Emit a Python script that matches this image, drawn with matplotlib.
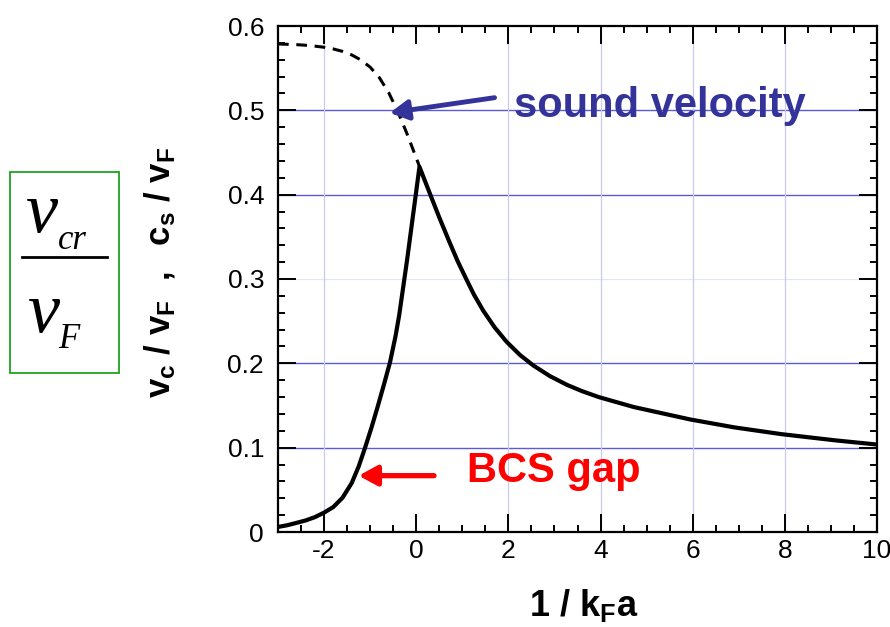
import numpy as np
import matplotlib
matplotlib.use('Agg')
import matplotlib.pyplot as plt
from matplotlib.patches import Rectangle
from matplotlib.lines import Line2D

plt.rcParams['font.family'] = ['Liberation Sans', 'DejaVu Sans']
plt.rcParams['mathtext.fontset'] = 'custom'
plt.rcParams['mathtext.rm'] = 'Liberation Sans'
plt.rcParams['mathtext.bf'] = 'Liberation Sans:bold'
plt.rcParams['mathtext.it'] = 'Liberation Sans:italic'
plt.rcParams['axes.unicode_minus'] = False

# sound velocity c_s / v_F (dashed, BCS side)
sound_x = [-3.0, -2.6, -2.3, -2.0, -1.8, -1.6, -1.4, -1.2, -1.0, -0.8, -0.6,
           -0.4, -0.2, 0.0, 0.07]
sound_y = [0.5787, 0.5779, 0.5768, 0.5748, 0.5728, 0.5699, 0.5657, 0.5597,
           0.5512, 0.5387, 0.5212, 0.4987, 0.4722, 0.4436, 0.4335]

# critical velocity v_c / v_F (solid)
vc_x = [-3.0, -2.8, -2.6, -2.4, -2.2, -2.0, -1.8, -1.6, -1.4, -1.25, -1.11,
        -0.97, -0.84, -0.70, -0.57, -0.45, -0.37, -0.2, 0.0, 0.07,
        0.32, 0.5, 0.72, 0.9, 1.085, 1.25, 1.45, 1.7, 1.96, 2.25, 2.54, 2.9,
        3.27, 3.6, 3.96, 4.72, 5.95, 6.91, 7.93, 9.09, 10.0]
vc_y = [0.006, 0.008, 0.0108, 0.0137, 0.0176, 0.023, 0.0296, 0.0406, 0.0581,
        0.0776, 0.100, 0.124, 0.148, 0.175, 0.201, 0.232, 0.257, 0.322,
        0.404, 0.433,
        0.398, 0.373, 0.344, 0.321, 0.300, 0.2818, 0.2628, 0.2428, 0.2256,
        0.210, 0.1975, 0.1849, 0.1745, 0.167, 0.160, 0.1482, 0.1334, 0.124,
        0.116, 0.1087, 0.1037]

xticks = [-2, 0, 2, 4, 6, 8, 10]
yticks = [0, 0.1, 0.2, 0.3, 0.4, 0.5, 0.6]
ytick_labels = ['0', '0.1', '0.2', '0.3', '0.4', '0.5', '0.6']
hgrid_dark = [0.1, 0.2, 0.4, 0.5]
hgrid_light = [0.3]
vgrid = [-2, 2, 4, 6, 8]

W, H = 890, 627
fig = plt.figure(figsize=(W / 100, H / 100), dpi=100)
ax = fig.add_axes([278 / W, 1 - 532 / H, 599 / W, 506 / H])


def fx(px):
    return px / W


def fy(py):
    return 1 - py / H


for g in hgrid_dark:
    ax.axhline(g, color='#5b5bd8', lw=1.0, zorder=1)
for g in hgrid_light:
    ax.axhline(g, color='#e4e4f6', lw=0.8, zorder=1)
for g in vgrid:
    ax.axvline(g, color='#c8c8f2', lw=0.9, zorder=1)

ax.plot(sound_x, sound_y, color='black', lw=2.2, ls=(0, (3.5, 2.5)), zorder=3)
ax.plot(vc_x, vc_y, color='black', lw=3.0, solid_joinstyle='round', zorder=3)

ax.set_xlim(-3, 10)
ax.set_ylim(0, 0.6)
ax.set_xticks(xticks)
ax.set_xticks(np.arange(-3, 10.01, 0.5), minor=True)
ax.set_yticks(yticks)
ax.set_yticklabels(ytick_labels)
ax.set_yticks(np.arange(0, 0.601, 0.02), minor=True)
ax.tick_params(which='both', direction='in', top=True, right=True,
               labelsize=19, width=1.4)
ax.tick_params(which='major', length=13)
ax.tick_params(which='minor', length=5)
ax.tick_params(axis='y', pad=10)
ax.tick_params(axis='x', pad=5)
for s in ax.spines.values():
    s.set_linewidth(1.6)

ax.set_xlabel(r'$\mathbf{1\ /\ k_Fa}$', fontsize=26)
ax.xaxis.set_label_coords(0.511, -0.108)
ax.set_ylabel(r'$\mathbf{v_c\ /\ v_F\ \ ,\ \ c_s\ /\ v_F}$', fontsize=25)
ax.yaxis.set_label_coords(-0.167, 0.514)

# annotations
ax.annotate('', xy=(-0.574, 0.497), xytext=(1.70, 0.515),
            arrowprops=dict(arrowstyle='-|>,head_length=0.55,head_width=0.3',
                            color='#333399', lw=3.5, mutation_scale=20,
                            shrinkA=0, shrinkB=0), zorder=4)
ax.text(2.12, (532 - 116.7) / 843.3, 'sound velocity', color='#333399',
        fontsize=30, fontweight='bold', va='baseline', ha='left', zorder=4)
ax.annotate('', xy=(-1.25, 0.0668), xytext=(0.386, 0.0668),
            arrowprops=dict(arrowstyle='-|>,head_length=0.55,head_width=0.3',
                            color='#ff0000', lw=3.8, mutation_scale=20,
                            shrinkA=0, shrinkB=0), zorder=4)
ax.text(1.11, (532 - 481.7) / 843.3, 'BCS gap', color='#ff0000', fontsize=30,
        fontweight='bold', va='baseline', ha='left', zorder=4)

# fraction box on the left
fig.patches.append(Rectangle((fx(10), fy(373)), 109 / W, 201 / H,
                             transform=fig.transFigure, fill=False,
                             edgecolor='#22a022', lw=1.3))
serif = dict(family=['Liberation Serif', 'DejaVu Serif'], style='italic',
             color='black')
fig.text(fx(25), fy(232), 'v', fontsize=52, ha='left', va='baseline', **serif)
fig.text(fx(58), fy(249), 'cr', fontsize=25, ha='left', va='baseline', **serif)
fig.lines.append(Line2D([fx(22), fx(107)], [fy(257), fy(257)],
                        transform=fig.transFigure, color='black', lw=2.0))
fig.text(fx(27), fy(332), 'v', fontsize=52, ha='left', va='baseline', **serif)
fig.text(fx(58), fy(348), 'F', fontsize=25, ha='left', va='baseline', **serif)

fig.savefig('out.png', dpi=100)
